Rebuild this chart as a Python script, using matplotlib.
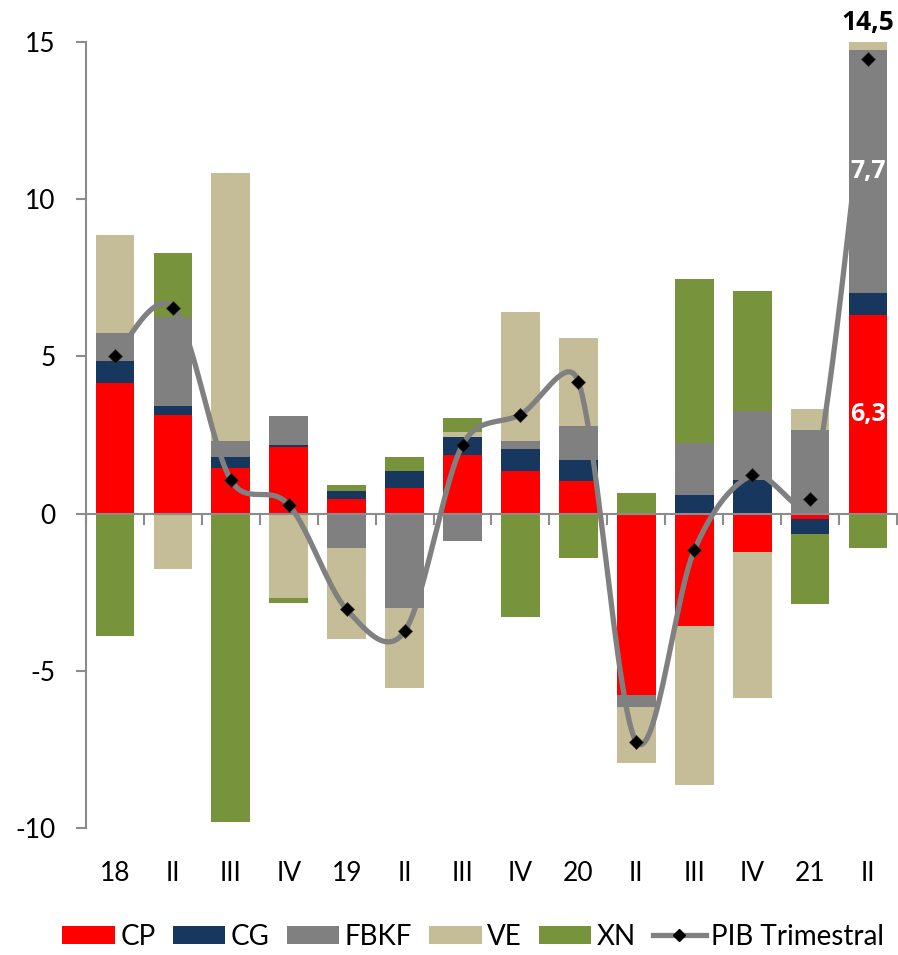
import numpy as np
import matplotlib
matplotlib.use("Agg")
import matplotlib.pyplot as plt
from matplotlib.patches import Patch
from matplotlib.lines import Line2D

plt.rcParams['font.family'] = ['Lato', 'DejaVu Sans']

categories = ["18", "II", "III", "IV", "19", "II", "III", "IV", "20", "II", "III", "IV", "21", "II"]
CP   = [4.17, 3.15, 1.46, 2.13, 0.48, 0.82, 1.87, 1.37, 1.05, -5.76, -3.58, -1.21, -0.18, 6.32]
CG   = [0.67, 0.28, 0.35, 0.06, 0.25, 0.55, 0.58, 0.70, 0.67, 0.00, 0.58, 1.08, -0.46, 0.70]
FBKF = [0.92, 2.83, 0.51, 0.93, -1.11, -2.99, -0.86, 0.25, 1.08, -0.40, 1.68, 2.18, 2.66, 7.73]
VE   = [3.09, -1.75, 8.52, -2.70, -2.87, -2.57, 0.15, 4.10, 2.80, -1.78, -5.05, -4.67, 0.68, 0.26]
XN   = [-3.88, 2.04, -9.80, -0.13, 0.19, 0.44, 0.45, -3.28, -1.40, 0.66, 5.20, 3.81, -2.23, -1.11]
PIB  = [5.00, 6.55, 1.07, 0.28, -3.05, -3.75, 2.19, 3.15, 4.20, -7.25, -1.17, 1.22, 0.47, 14.46]

series_names = ["CP", "CG", "FBKF", "VE", "XN"]
series_vals = [CP, CG, FBKF, VE, XN]
colors = ["#FF0000", "#17375E", "#808080", "#C4BD97", "#77933C"]

fig = plt.figure(figsize=(8.98, 9.55), dpi=100)
ax = fig.add_axes([0.0958, 0.133, 0.903, 0.823])

x = np.arange(len(categories))
pos_base = np.zeros(len(x))
neg_base = np.zeros(len(x))
for name, vals, col in zip(series_names, series_vals, colors):
    v = np.array(vals, dtype=float)
    pos = np.where(v > 0, v, 0)
    neg = np.where(v < 0, v, 0)
    ax.bar(x, pos, bottom=pos_base, width=0.67, color=col, zorder=2, linewidth=0)
    ax.bar(x, neg, bottom=neg_base, width=0.67, color=col, zorder=2, linewidth=0)
    pos_base += pos
    neg_base += neg

ax.set_xlim(-0.5, len(x) - 0.5)
ax.set_ylim(-10, 15)

# Excel-style smoothed line: Bezier segments, computed in screen space
px = x.astype(float)
py = np.array(PIB, dtype=float)
sx, sy = 57.9, 31.45  # pixels per data unit (approx.)
P = np.column_stack([px * sx, py * sy])
Pext = np.vstack([P[0], P, P[-1]])
curve = []
for i in range(len(P) - 1):
    p0, p1, p2, p3 = Pext[i], Pext[i + 1], Pext[i + 2], Pext[i + 3]
    d12 = np.hypot(*(p2 - p1))
    d02 = np.hypot(*(p2 - p0))
    d13 = np.hypot(*(p3 - p1))
    f0 = 1 / 6.0
    f1 = 1 / 6.0
    if d02 / 6.0 >= d12 / 2.0 and d02 > 0:
        f0 = d12 / 2.0 / d02
    if d13 / 6.0 >= d12 / 2.0 and d13 > 0:
        f1 = d12 / 2.0 / d13
    c1 = p1 + (p2 - p0) * f0
    c2 = p2 - (p3 - p1) * f1
    t = np.linspace(0, 1, 50)[:, None]
    seg = (1 - t) ** 3 * p1 + 3 * (1 - t) ** 2 * t * c1 + 3 * (1 - t) * t ** 2 * c2 + t ** 3 * p2
    curve.append(seg if i == 0 else seg[1:])
curve = np.vstack(curve)
ax.plot(curve[:, 0] / sx, curve[:, 1] / sy, color="#808080", lw=3.8, zorder=4,
        solid_capstyle='round')
ax.plot(px, py, linestyle='none', marker='D', markersize=7.5, color='black',
        markeredgecolor='#333333', markeredgewidth=0.5, zorder=5)

ax.set_yticks([-10, -5, 0, 5, 10, 15])
ax.set_yticklabels(["-10", "-5", "0", "5", "10", "15"])

for s in ["top", "right", "bottom"]:
    ax.spines[s].set_visible(False)
ax.spines["left"].set_color("#8c8c8c")
ax.spines["left"].set_linewidth(1.5)
ax.tick_params(axis='y', direction='out', length=7, width=1.5, color="#8c8c8c",
               labelsize=19, pad=15, labelcolor='black')

ax.set_xticks(x)
ax.set_xticklabels(categories)
ax.tick_params(axis='x', length=0, labelsize=19, pad=24, labelcolor='black')

# zero axis with category boundary ticks
ax.axhline(0, color="#8c8c8c", lw=1.5, zorder=3)
for b in np.arange(-0.5, len(x), 1.0):
    ax.plot([b, b], [0, -0.32], color="#8c8c8c", lw=1.5, zorder=3, clip_on=False)

# annotations
ax.text(13, 15.2, "14,5", ha='center', va='bottom', fontsize=19, fontweight='bold',
        family=['Open Sans', 'DejaVu Sans'], color='black', clip_on=False)
ax.text(13, (CP[13] + CG[13]) + FBKF[13] / 2, "7,7", ha='center', va='center', fontsize=18,
        fontweight='bold', family=['Open Sans', 'DejaVu Sans'], color='white', zorder=6)
ax.text(13, CP[13] / 2, "6,3", ha='center', va='center', fontsize=18,
        fontweight='bold', family=['Open Sans', 'DejaVu Sans'], color='white', zorder=6)

handles = [Patch(facecolor=c, edgecolor='none') for c in colors]
handles.append(Line2D([0], [0], color="#808080", lw=3.8, marker='D', markersize=6,
                      markerfacecolor='black', markeredgecolor='black'))
labels = series_names + ["PIB Trimestral"]
fig.legend(handles, labels, loc='lower center', bbox_to_anchor=(0.527, -0.006), ncol=6,
           frameon=False, fontsize=20, handlelength=1.9, handleheight=0.6,
           handletextpad=0.2, columnspacing=0.6, borderaxespad=0.0)

fig.savefig("out.png", dpi=100)
